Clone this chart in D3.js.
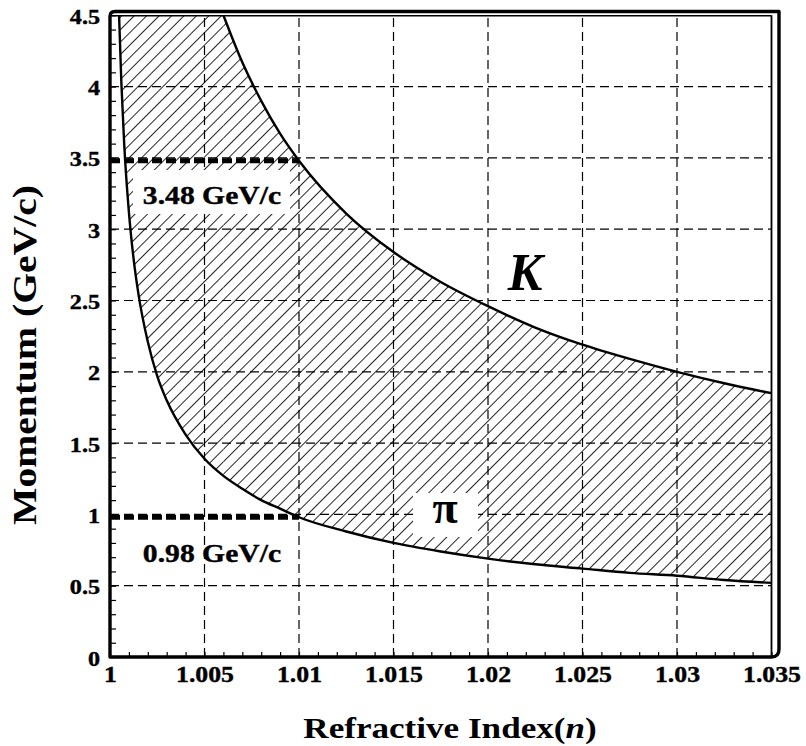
<!DOCTYPE html>
<html>
<head>
<meta charset="utf-8">
<script src="https://cdn.jsdelivr.net/npm/d3@7"></script>
<style>
  body { margin: 0; background: #fff; }
  text { font-family: "Liberation Serif", "Times New Roman", serif; font-weight: bold; fill: #000; }
  .heavy { stroke: #000; stroke-width: 0.4px; }
</style>
</head>
<body>
<svg id="chart" width="806" height="746"></svg>
<script>
// Axis ticks and labels
const xTicks = [1, 1.005, 1.01, 1.015, 1.02, 1.025, 1.03, 1.035];
const xTickLabels = ["1", "1.005", "1.01", "1.015", "1.02", "1.025", "1.03", "1.035"];
const yTicks = [0, 0.5, 1, 1.5, 2, 2.5, 3, 3.5, 4, 4.5];
const yTickLabels = ["0", "0.5", "1", "1.5", "2", "2.5", "3", "3.5", "4", "4.5"];

// Cherenkov threshold momentum of the pion vs. refractive index
const pionIndex = [1.00048, 1.0006, 1.00075, 1.001, 1.00125, 1.0015, 1.002, 1.0025, 1.003, 1.004, 1.005,
                   1.006, 1.007, 1.008, 1.009, 1.01, 1.0125, 1.015, 1.0175, 1.02, 1.0225, 1.025, 1.0275,
                   1.03, 1.0325, 1.035];
const pionMomentum = [4.50, 4.03, 3.60, 3.12, 2.79, 2.55, 2.21, 1.97, 1.80, 1.56, 1.39,
                      1.27, 1.18, 1.10, 1.04, 0.98, 0.88, 0.80, 0.74, 0.69, 0.65, 0.62, 0.59,
                      0.57, 0.54, 0.52];

// Cherenkov threshold momentum of the kaon vs. refractive index
const kaonIndex = [1.006, 1.007, 1.008, 1.009, 1.01, 1.0125, 1.015, 1.0175, 1.02, 1.0225, 1.025,
                   1.0275, 1.03, 1.0325, 1.035];
const kaonMomentum = [4.50, 4.17, 3.90, 3.67, 3.48, 3.11, 2.84, 2.63, 2.46, 2.31, 2.19,
                      2.09, 2.00, 1.92, 1.85];

// Thresholds marked at n = 1.01
const markIndex = 1.01;
const markMomentum = [3.48, 0.98];
const markLabels = ["3.48 GeV/c", "0.98 GeV/c"];

const svg = d3.select("#chart");
const x = d3.scaleLinear().domain([1, 1.035]).range([110, 771.5]);
const y = d3.scaleLinear().domain([0, 4.5]).range([657, 15.3]);

const pionPts = pionIndex.map((n, i) => [n, pionMomentum[i]]);
const kaonPts = kaonIndex.map((n, i) => [n, kaonMomentum[i]]);

// Stretch a text node horizontally by a factor (wide serif look)
function stretch(sel, f) {
  sel.each(function () {
    const len = this.getComputedTextLength();
    d3.select(this).attr("textLength", len * f).attr("lengthAdjust", "spacingAndGlyphs");
  });
}

const defs = svg.append("defs");
defs.append("pattern")
  .attr("id", "hatch")
  .attr("patternUnits", "userSpaceOnUse")
  .attr("width", 8.8).attr("height", 8.8)
  .attr("patternTransform", "rotate(45)")
  .append("line")
  .attr("x1", 0).attr("y1", -1).attr("x2", 0).attr("y2", 10)
  .attr("stroke", "#000").attr("stroke-width", 1.7);

// Band between the two threshold curves
const below = d3.area().x(d => x(d[0])).y0(y(0)).y1(d => y(d[1])).curve(d3.curveMonotoneX);
const mask = defs.append("mask").attr("id", "band");
mask.append("rect").attr("x", x(1)).attr("y", y(4.5)).attr("width", x(kaonIndex[0]) - x(1))
  .attr("height", y(0) - y(4.5)).attr("fill", "#fff");
mask.append("path").attr("d", below(kaonPts)).attr("fill", "#fff");
mask.append("rect").attr("x", x(1) - 2).attr("y", y(4.5)).attr("width", x(pionIndex[0]) - x(1) + 2)
  .attr("height", y(0) - y(4.5)).attr("fill", "#000");
mask.append("path").attr("d", below(pionPts)).attr("fill", "#000");

// Grid
const grid = svg.append("g").attr("stroke", "#000").attr("stroke-width", 1.2)
  .attr("stroke-dasharray", "9,5").attr("fill", "none");
grid.selectAll("line.v").data(xTicks.slice(1, -1)).join("line").attr("class", "v")
  .attr("x1", d => x(d)).attr("x2", d => x(d)).attr("y1", y(0)).attr("y2", y(4.5));
grid.selectAll("line.h").data(yTicks.slice(1, -1)).join("line").attr("class", "h")
  .attr("x1", x(1)).attr("x2", x(1.035)).attr("y1", d => y(d)).attr("y2", d => y(d));

// Hatched band
svg.append("rect")
  .attr("x", x(1)).attr("y", y(4.5)).attr("width", x(1.035) - x(1)).attr("height", y(0) - y(4.5))
  .attr("fill", "url(#hatch)").attr("mask", "url(#band)");

// Threshold curves
const line = d3.line().x(d => x(d[0])).y(d => y(d[1])).curve(d3.curveMonotoneX);
svg.append("path").attr("d", line(pionPts)).attr("fill", "none").attr("stroke", "#000").attr("stroke-width", 2.4);
svg.append("path").attr("d", line(kaonPts)).attr("fill", "none").attr("stroke", "#000").attr("stroke-width", 2.4);

// Thick dashed threshold markers
svg.selectAll("line.mark").data(markMomentum).join("line").attr("class", "mark")
  .attr("x1", x(1)).attr("x2", x(markIndex)).attr("y1", d => y(d)).attr("y2", d => y(d))
  .attr("stroke", "#000").attr("stroke-width", 4.8).attr("stroke-dasharray", "10,4");

// Label backgrounds inside the band
svg.append("rect").attr("x", 133).attr("y", 170).attr("width", 157).attr("height", 44).attr("fill", "#fff");
svg.append("rect").attr("x", 413).attr("y", 493).attr("width", 65).attr("height", 44).attr("fill", "#fff");

// Threshold labels
const markText = svg.selectAll("text.mark").data(markMomentum).join("text").attr("class", "mark heavy")
  .attr("x", 212).attr("y", d => y(d) + (d > 2 ? 43 : 45))
  .attr("text-anchor", "middle").attr("font-size", 26)
  .text((d, i) => markLabels[i]);
stretch(markText, 1.14);

// Particle labels
svg.append("text").attr("x", 525).attr("y", 290).attr("text-anchor", "middle")
  .attr("font-size", 52).attr("font-style", "italic").text("K");
svg.append("text").attr("x", 445).attr("y", 523).attr("text-anchor", "middle")
  .attr("font-size", 46).attr("font-weight", "normal").text("π");

// Minor ticks (inward)
const xAxisMinor = d3.axisBottom(x).ticks(35).tickSize(-5).tickFormat("");
svg.append("g").attr("transform", `translate(0,${y(0)})`).call(xAxisMinor)
  .call(g => g.select(".domain").remove())
  .selectAll("line").attr("stroke-width", 1.2);
const yAxisMinor = d3.axisLeft(y).ticks(45).tickSize(-6).tickFormat("");
svg.append("g").attr("transform", `translate(${x(1)},0)`).call(yAxisMinor)
  .call(g => g.select(".domain").remove())
  .selectAll("line").attr("stroke-width", 1.2);

// Tick labels
const xAxis = d3.axisBottom(x).tickValues(xTicks).tickSize(0).tickPadding(0)
  .tickFormat((d, i) => xTickLabels[i]);
const gx = svg.append("g").attr("transform", `translate(0,${y(0)})`).call(xAxis);
gx.select(".domain").remove();
gx.selectAll("text").attr("class", "heavy").attr("font-size", 23).attr("dy", null).attr("y", 25).attr("fill", "#000")
  .style("font-family", "'Liberation Serif', serif").style("font-weight", "bold");
stretch(gx.selectAll("text"), 1.12);

const yAxis = d3.axisLeft(y).tickValues(yTicks).tickSize(0).tickPadding(0)
  .tickFormat((d, i) => yTickLabels[i]);
const gy = svg.append("g").attr("transform", `translate(${x(1)},0)`).call(yAxis);
gy.select(".domain").remove();
gy.selectAll("text").attr("class", "heavy").attr("font-size", 21).attr("dy", null).attr("y", 8).attr("x", -10).attr("fill", "#000")
  .style("font-family", "'Liberation Serif', serif").style("font-weight", "bold");
stretch(gy.selectAll("text"), 1.15);

// Frame
const frame = svg.append("g").attr("fill", "none").attr("stroke", "#000");
frame.append("path")
  .attr("d", `M${x(1)},${y(0)} L${x(1)},${y(4.5) + 1} Q${x(1)},11.5 ${x(1) + 5},11.5 L779,11.5 L779,649 Q779,${y(0)} ${x(1.035)},${y(0)} Z`)
  .attr("stroke-width", 3.4).attr("stroke-linejoin", "round");
frame.append("line").attr("x1", x(1)).attr("x2", x(1.035)).attr("y1", y(4.5) + 0.5).attr("y2", y(4.5) + 0.5)
  .attr("stroke-width", 1.6);
frame.append("line").attr("x1", x(1.035)).attr("x2", x(1.035)).attr("y1", y(4.5)).attr("y2", y(0))
  .attr("stroke-width", 1.8);

// Axis titles
const xTitle = svg.append("text").attr("x", 450).attr("y", 738).attr("text-anchor", "middle")
  .attr("font-size", 30);
xTitle.append("tspan").text("Refractive Index(");
xTitle.append("tspan").attr("font-style", "italic").text("n");
xTitle.append("tspan").text(")");
stretch(xTitle, 1.17);

const yTitle = svg.append("text").attr("transform", "translate(36,355) rotate(-90)")
  .attr("text-anchor", "middle").attr("font-size", 33).text("Momentum (GeV/c)");
stretch(yTitle, 1.2);
</script>
</body>
</html>
